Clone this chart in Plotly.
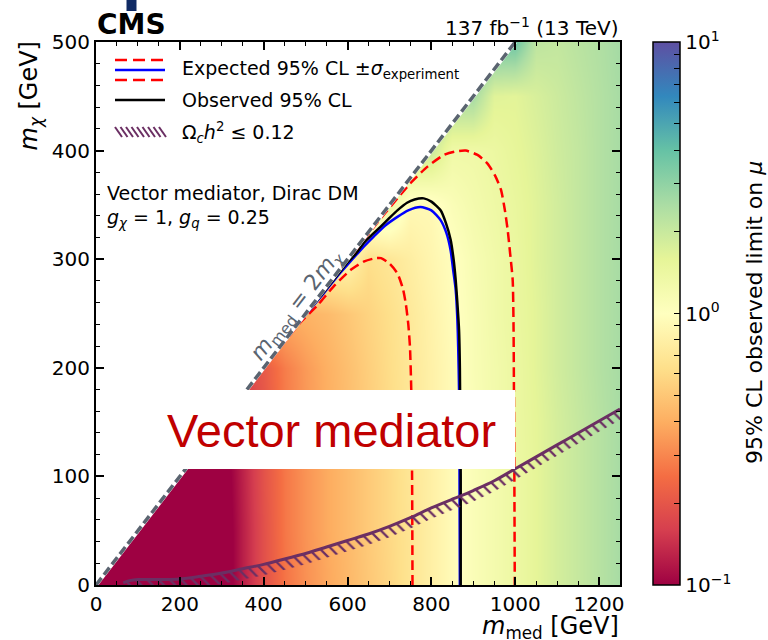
import math
import plotly.graph_objects as go

# ---------------- data ----------------
m_med_grid = list(range(0, 1251, 50))          # 26 columns
m_chi_grid = list(range(0, 501, 50))           # 11 rows

# log10(observed limit on mu), row by row (m_chi = 0, 50, ..., 500)
row_000 = [-1.3, -1.3, -1.3, -1.3, -1.3, -1.25, -1.1, -0.9, -0.72, -0.58, -0.49, -0.42, -0.36,
           -0.30, -0.24, -0.17, -0.10, -0.03, 0.04, 0.09, 0.14, 0.20, 0.26, 0.31, 0.36, 0.41]
row_050 = [-1.3, -1.3, -1.3, -1.3, -1.3, -1.25, -1.1, -0.9, -0.72, -0.57, -0.48, -0.41, -0.35,
           -0.29, -0.23, -0.17, -0.10, -0.03, 0.04, 0.09, 0.14, 0.20, 0.26, 0.31, 0.36, 0.41]
row_100 = [-1.3, -1.3, -1.3, -1.3, -1.3, -1.25, -1.08, -0.89, -0.71, -0.57, -0.48, -0.41, -0.35,
           -0.29, -0.23, -0.16, -0.10, -0.03, 0.04, 0.09, 0.14, 0.20, 0.26, 0.31, 0.36, 0.41]
row_150 = [-1.2] * 6 + [-1.05, -0.88, -0.70, -0.56, -0.47, -0.40, -0.34, -0.28, -0.22, -0.16,
                        -0.09, -0.03, 0.04, 0.10, 0.15, 0.20, 0.26, 0.31, 0.36, 0.41]
row_200 = [-0.75] * 8 + [-0.68, -0.55, -0.46, -0.39, -0.33, -0.27, -0.21, -0.15, -0.09, -0.03,
                         0.05, 0.10, 0.15, 0.21, 0.27, 0.32, 0.37, 0.41]
row_250 = [-0.40] * 10 + [-0.38, -0.35, -0.30, -0.25, -0.20, -0.14, -0.08, -0.02, 0.05, 0.11,
                          0.16, 0.21, 0.27, 0.32, 0.37, 0.41]
row_300 = [-0.05] * 12 + [-0.06, -0.20, -0.16, -0.11, -0.06, -0.01, 0.06, 0.11, 0.16, 0.22,
                          0.27, 0.32, 0.37, 0.41]
row_350 = [0.15] * 14 + [0.15, -0.04, -0.04, 0.04, 0.09, 0.13, 0.17, 0.22, 0.27, 0.32, 0.37, 0.41]
row_400 = [0.3] * 16 + [0.3, 0.12, 0.12, 0.15, 0.19, 0.23, 0.28, 0.32, 0.37, 0.41]
row_450 = [0.42] * 18 + [0.42, 0.22, 0.21, 0.25, 0.29, 0.33, 0.37, 0.41]
row_500 = [0.58] * 20 + [0.58, 0.34, 0.32, 0.35, 0.38, 0.42]
log_mu = [row_000, row_050, row_100, row_150, row_200, row_250,
          row_300, row_350, row_400, row_450, row_500]

# kinematic boundary m_med = 2 m_chi
diag_x = [0, 1000]
diag_y = [0, 500]

# observed 95% CL contour
obs_x = [0, 300, 480, 540, 575, 600, 620, 639, 660, 679, 700, 719, 742, 760, 782, 800, 822,
         835, 846, 853, 858, 862, 866, 868, 869, 870, 870]
obs_y = [0, 150, 240, 268, 285, 297, 305, 315, 323, 330, 338, 345, 352, 355, 356, 353, 345,
         333, 318, 300, 281, 260, 235, 200, 150, 100, 0]
# expected 95% CL contour
exp_x = [0, 300, 480, 540, 575, 607, 635, 663, 690, 719, 745, 774, 800, 822, 836, 846, 852,
         858, 862, 864, 866, 867, 868]
exp_y = [0, 150, 240, 267, 284, 298, 310, 321, 331, 339, 345, 348, 345, 336, 324, 308, 290,
         272, 245, 219, 180, 120, 0]
# expected +/- 1 sigma (outer / inner)
up_x = [0, 300, 500, 600, 680, 719, 750, 790, 830, 855, 882, 910, 934, 952, 966, 975, 982,
        988, 994, 996, 997, 998, 999]
up_y = [0, 150, 249, 298, 338, 356, 370, 385, 396, 399, 400, 396, 388, 377, 364, 346, 327,
        305, 281, 240, 180, 100, 0]
dn_x = [0, 300, 450, 488, 527, 567, 607, 640, 667, 680, 700, 719, 732, 739, 745, 749, 752,
        754, 755]
dn_y = [0, 150, 224, 242, 257, 275, 290, 298, 301, 301, 296, 287, 273, 259, 240, 219, 180,
        100, 0]
# relic density curve Omega_c h^2 = 0.12
relic_x = [65, 80, 100, 150, 200, 250, 300, 350, 400, 450, 500, 550, 600, 650, 700, 750, 800,
           850, 870, 900, 950, 1000, 1050, 1100, 1150, 1200, 1250]
relic_y = [2, 4, 5, 5, 5.5, 8, 11, 15, 19, 24, 29, 35, 41, 47, 54, 62, 71, 79, 82, 87, 96,
           107, 118, 129, 140, 151, 162]

cb_vals = [0.1, 0.2, 0.3, 0.4, 0.5, 0.6, 0.7, 0.8, 0.9, 1, 2, 3, 4, 5, 6, 7, 8, 9, 10]
cb_labels = {0.1: "10<sup>−1</sup>", 1: "10<sup>0</sup>", 10: "10<sup>1</sup>"}

# ---------------- geometry helpers (pixels -> paper) ----------------
L, R, T, B = 96, 620, 42, 585
W, H = 768, 640


def PX(p):
    return (p - L) / (R - L)


def PY(p):
    return (B - p) / (B - T)


FONT = "DejaVu Sans"
spectral = [[0.0, '#9e0142'], [0.1, '#d53e4f'], [0.2, '#f46d43'], [0.3, '#fdae61'],
            [0.4, '#fee08b'], [0.5, '#ffffbf'], [0.6, '#e6f598'], [0.7, '#abdda4'],
            [0.8, '#66c2a5'], [0.9, '#3288bd'], [1.0, '#5e4fa2']]

fig = go.Figure()

fig.add_trace(go.Heatmap(
    x=m_med_grid, y=m_chi_grid, z=log_mu, zmin=-1, zmax=1, zsmooth='best',
    colorscale=spectral, hoverinfo='skip',
    colorbar=dict(
        x=PX(653), xanchor='left', xpad=0, y=0.5, yanchor='middle', len=1, ypad=0,
        thickness=27, outlinewidth=1.5, outlinecolor='black',
        tickmode='array', tickvals=[math.log10(v) for v in cb_vals],
        ticktext=[cb_labels.get(v, '') for v in cb_vals],
        ticks='inside', ticklen=6, tickwidth=1.2, tickcolor='black',
        tickfont=dict(size=20, family=FONT, color='black'),
    )))

# white mask above kinematic boundary
fig.add_trace(go.Scatter(x=diag_x + [diag_x[0]], y=diag_y + [diag_y[-1]],
                         fill='toself', fillcolor='white', mode='none',
                         hoverinfo='skip', showlegend=False))

# contours
for xs, ys, col, dash in [(up_x, up_y, 'red', '10px,5px'),
                          (dn_x, dn_y, 'red', '10px,5px'),
                          (exp_x, exp_y, 'blue', 'solid'),
                          (obs_x, obs_y, 'black', 'solid')]:
    fig.add_trace(go.Scatter(x=xs, y=ys, mode='lines',
                             line=dict(color=col, width=2.5, dash=dash, shape='spline',
                                       smoothing=0.6),
                             hoverinfo='skip', showlegend=False))

# relic hatch band
band_x = relic_x + relic_x[::-1]
band_y = relic_y + [v - 10 for v in relic_y[::-1]]
fig.add_trace(go.Scatter(x=band_x, y=band_y, fill='toself', mode='none',
                         fillcolor='rgba(0,0,0,0)',
                         fillpattern=dict(shape='\\', fgcolor='#6b2f63', fgopacity=1,
                                          bgcolor='rgba(0,0,0,0)', size=8, solidity=0.28),
                         hoverinfo='skip', showlegend=False))
fig.add_trace(go.Scatter(x=relic_x, y=relic_y, mode='lines',
                         line=dict(color='#6b2f63', width=3, shape='spline'),
                         hoverinfo='skip', showlegend=False))

# diagonal line
fig.add_trace(go.Scatter(x=diag_x, y=diag_y, mode='lines',
                         line=dict(color='white', width=4),
                         hoverinfo='skip', showlegend=False))
fig.add_trace(go.Scatter(x=diag_x, y=diag_y, mode='lines',
                         line=dict(color='#5a6470', width=3.5, dash='9px,4px'),
                         hoverinfo='skip', showlegend=False))

shapes = []
# legend handles
shapes.append(dict(type='line', xref='paper', yref='paper', x0=PX(115), x1=PX(165),
                   y0=PY(60), y1=PY(60), line=dict(color='red', width=2.5, dash='12px,6px')))
shapes.append(dict(type='line', xref='paper', yref='paper', x0=PX(115), x1=PX(165),
                   y0=PY(70), y1=PY(70), line=dict(color='blue', width=2.5)))
shapes.append(dict(type='line', xref='paper', yref='paper', x0=PX(115), x1=PX(165),
                   y0=PY(80), y1=PY(80), line=dict(color='red', width=2.5, dash='12px,6px')))
shapes.append(dict(type='line', xref='paper', yref='paper', x0=PX(115), x1=PX(165),
                   y0=PY(100), y1=PY(100), line=dict(color='black', width=2.5)))
for i in range(9):
    x0 = 115 + i * 5.5
    shapes.append(dict(type='line', xref='paper', yref='paper', x0=PX(x0), x1=PX(x0 + 7),
                       y0=PY(127), y1=PY(137), line=dict(color='#6b2f63', width=2)))
# white overlay box
shapes.append(dict(type='rect', xref='paper', yref='paper', x0=PX(150), x1=PX(515),
                   y0=PY(469), y1=PY(390), fillcolor='white', line=dict(width=0),
                   layer='above'))
# small dark blue mark at the top
shapes.append(dict(type='rect', xref='paper', yref='paper', x0=PX(126.5), x1=PX(136.5),
                   y0=PY(11), y1=PY(-2), fillcolor='#102a64', line=dict(width=0)))

ann = []


def A(text, x, y, size=19, xanchor='left', yanchor='middle', color='black', angle=0,
      family=FONT):
    ann.append(dict(text=text, xref='paper', yref='paper', x=PX(x), y=PY(y),
                    xanchor=xanchor, yanchor=yanchor, showarrow=False, textangle=angle,
                    font=dict(size=size, color=color, family=family)))


A('Expected 95% CL ±<i>σ</i><sub>experiment</sub>', 180, 69)
A('Observed 95% CL', 180, 100)
A('Ω<sub><i>c</i></sub><i>h</i><sup>2</sup> ≤ 0.12', 180, 132)
A('Vector mediator, Dirac DM', 105, 193)
A('<i>g</i><sub><i>χ</i></sub> = 1, <i>g</i><sub><i>q</i></sub> = 0.25', 105, 219)
A('<b>CMS</b>', 95, 24, size=28)
A('137 fb<sup>−1</sup> (13 TeV)', 621, 27, size=20, xanchor='right')
A('<i>m</i><sub>med</sub> [GeV]', 621, 627, size=24, xanchor='right')
A('<i>m</i><sub><i>χ</i></sub> [GeV]', 30, 40, size=24, xanchor='center', yanchor='top',
  angle=-90)
A('<i>m</i><sub>med</sub> = 2<i>m</i><sub><i>χ</i></sub>', 297, 305, size=22,
  xanchor='center', color='#5a6470', angle=-52.4)
A('Vector mediator', 331, 430, size=47, xanchor='center', color='#c00000',
  family='Liberation Sans')
A('95% CL observed limit on <i>μ</i>', 755, 313, size=22, xanchor='center', angle=-90)

axis_common = dict(showline=True, linewidth=2, linecolor='black', mirror='ticks',
                   ticks='inside', ticklen=8, tickwidth=1.5, tickcolor='black',
                   showgrid=False, zeroline=False,
                   tickfont=dict(size=20, family=FONT, color='black'))
fig.update_layout(
    width=W, height=H, margin=dict(l=L, r=W - R, t=T, b=H - B, autoexpand=False),
    plot_bgcolor='white', paper_bgcolor='white', showlegend=False,
    xaxis=dict(range=[0, 1250], tickvals=[0, 200, 400, 600, 800, 1000, 1200],
               minor=dict(dtick=50, ticklen=4, tickwidth=1.2, ticks='inside',
                          tickcolor='black'), **axis_common),
    yaxis=dict(range=[0, 500], tickvals=[0, 100, 200, 300, 400, 500],
               minor=dict(dtick=20, ticklen=4, tickwidth=1.2, ticks='inside',
                          tickcolor='black'), **axis_common),
    shapes=shapes, annotations=ann,
)

fig.write_html("out.html", config={'displayModeBar': False},
               post_script="document.body.style.margin='0';document.body.style.padding='0';")
